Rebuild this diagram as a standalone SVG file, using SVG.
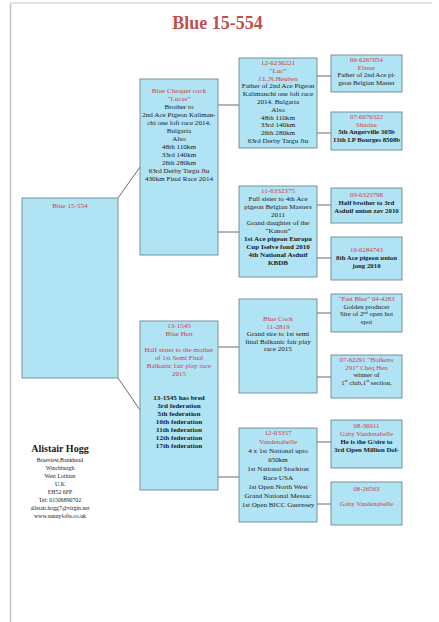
<svg xmlns="http://www.w3.org/2000/svg" width="439" height="622" viewBox="0 0 439 622">
<style>
.box{fill:#b0e3f4;stroke:#6a8797;stroke-width:0.9}
.t{font-family:"Liberation Serif","Times New Roman",serif;font-size:7.1px;text-anchor:middle;fill:#1a1a1a}
.s{font-size:6.8px}
.r{fill:#cf3e3e}
.b{font-weight:bold}
.sup{font-size:4.5px}
.conn line{stroke:#444;stroke-width:0.8}
.title{font-family:"Liberation Serif","Times New Roman",serif;font-size:18px;font-weight:bold;fill:#c0504d;text-anchor:middle}
.ft{font-family:"Liberation Serif","Times New Roman",serif;font-size:5.8px;text-anchor:middle;fill:#1a1a1a}
.fh{font-size:10px;font-weight:bold}
</style>
<rect width="439" height="622" fill="#fff"/>
<line x1="10.5" y1="3" x2="10.5" y2="622" stroke="#c4c4c4" stroke-width="1.5"/>
<line x1="10" y1="3" x2="432" y2="3" stroke="#e2e2e2" stroke-width="2"/>
<text class="title" x="217.5" y="29">Blue 15-554</text>

<g id="connectors" class="conn">
<line x1="118" y1="198" x2="140" y2="167"/>
<line x1="118" y1="378" x2="140" y2="410"/>
<line x1="218" y1="105" x2="239" y2="105"/>
<line x1="218" y1="232" x2="239" y2="232"/>
<line x1="218" y1="347" x2="239" y2="347"/>
<line x1="218" y1="477" x2="239" y2="477"/>
<line x1="317" y1="76" x2="331" y2="76"/>
<line x1="317" y1="133" x2="331" y2="133"/>
<line x1="317" y1="205" x2="331" y2="205"/>
<line x1="317" y1="258" x2="331" y2="258"/>
<line x1="317" y1="313" x2="331" y2="313"/>
<line x1="317" y1="377" x2="331" y2="377"/>
<line x1="317" y1="442" x2="331" y2="442"/>
<line x1="317" y1="504" x2="331" y2="504"/>
</g>

<g id="root">
<rect class="box" x="22" y="198" width="96" height="180"/>
<text class="t r" x="70" y="208">Blue 15-554</text>
</g>

<g id="sire">
<rect class="box" x="140" y="79" width="78" height="176"/>
<text class="t r" x="179" y="93">Blue Chequer cock</text>
<text class="t r" x="179" y="101">“Lucas”</text>
<text class="t" x="179" y="109">Brother to</text>
<text class="t" x="179" y="117">2nd Ace Pigeon Kaliman-</text>
<text class="t" x="179" y="125">chi one loft race 2014.</text>
<text class="t" x="179" y="133">Bulgaria</text>
<text class="t" x="179" y="141">Also</text>
<text class="t" x="179" y="149">48th 110km</text>
<text class="t" x="179" y="157">33rd 140km</text>
<text class="t" x="179" y="165">26th 280km</text>
<text class="t" x="179" y="173">63rd Derby Targu Jiu</text>
<text class="t" x="179" y="181">430km Final Race 2014</text>
</g>

<g id="dam">
<rect class="box" x="140" y="321" width="78" height="169"/>
<text class="t r" x="179" y="328">13-1545</text>
<text class="t r" x="179" y="336">Blue Hen</text>
<text class="t r" x="179" y="352">Half sister to the mother</text>
<text class="t r" x="179" y="360">of 1st Semi Final</text>
<text class="t r" x="179" y="368">Balkanic fair play race</text>
<text class="t r" x="179" y="376">2015</text>
<text class="t b" x="179" y="400">13-1545 has bred</text>
<text class="t b" x="179" y="408">3rd federation</text>
<text class="t b" x="179" y="416">5th federation</text>
<text class="t b" x="179" y="424">10th federation</text>
<text class="t b" x="179" y="432">11th federation</text>
<text class="t b" x="179" y="440">12th federation</text>
<text class="t b" x="179" y="448">17th federation</text>
</g>

<g id="ss">
<rect class="box" x="239" y="58" width="78" height="90"/>
<text class="t r" x="278" y="65">12-6236221</text>
<text class="t r" x="278" y="72.8">“Luc”</text>
<text class="t r" x="278" y="80.6">J.L.N.Heuben</text>
<text class="t" x="278" y="88.4">Father of 2nd Ace Pigeon</text>
<text class="t" x="278" y="96.2">Kalimanchi one loft race</text>
<text class="t" x="278" y="104">2014. Bulgaria</text>
<text class="t" x="278" y="111.8">Also</text>
<text class="t" x="278" y="119.6">48th 110km</text>
<text class="t" x="278" y="127.4">33rd 140km</text>
<text class="t" x="278" y="135.2">26th 280km</text>
<text class="t" x="278" y="143">63rd Derby Targu Jiu</text>
</g>

<g id="sd">
<rect class="box" x="239" y="186" width="78" height="91"/>
<text class="t r" x="278" y="193">11-6332375</text>
<text class="t" x="278" y="201">Full sister to 4th Ace</text>
<text class="t" x="278" y="209">pigeon Belgian Masters</text>
<text class="t" x="278" y="217">2011</text>
<text class="t" x="278" y="225">Grand daughter of the</text>
<text class="t" x="278" y="233">“Kanon”</text>
<text class="t b" x="278" y="241">1st Ace pigeon Europa</text>
<text class="t b" x="278" y="249">Cup Iselve fond 2010</text>
<text class="t b" x="278" y="257">4th National Asduif</text>
<text class="t b" x="278" y="265">KBDB</text>
</g>

<g id="ds">
<rect class="box" x="239" y="299" width="78" height="94"/>
<text class="t r" x="278" y="321">Blue Cock</text>
<text class="t r" x="278" y="328.5">11-2819</text>
<text class="t" x="278" y="336">Grand sire to 1st semi</text>
<text class="t" x="278" y="343.5">final Balkanic fair play</text>
<text class="t" x="278" y="351">race 2015</text>
</g>

<g id="dd">
<rect class="box" x="239" y="428" width="78" height="94"/>
<text class="t r" x="278" y="435">12-03357</text>
<text class="t r" x="278" y="444">Vandenabelle</text>
<text class="t" x="278" y="453">4 x 1st National upto</text>
<text class="t" x="278" y="462">650km</text>
<text class="t" x="278" y="471">1st National Stockton</text>
<text class="t" x="278" y="480">Race USA</text>
<text class="t" x="278" y="489">1st Open North West</text>
<text class="t" x="278" y="498">Grand National Messac</text>
<text class="t" x="278" y="507">1st Open BICC Guernsey</text>
</g>

<g id="sss">
<rect class="box" x="331" y="55" width="71" height="37"/>
<text class="t s r" x="366.5" y="62">06-6267054</text>
<text class="t s r" x="366.5" y="69.5">Elsner</text>
<text class="t s" x="366.5" y="77">Father of 2nd Ace pi-</text>
<text class="t s" x="366.5" y="84.5">geon Belgian Master</text>
</g>

<g id="ssd">
<rect class="box" x="331" y="112" width="71" height="38"/>
<text class="t s r" x="366.5" y="119">07-6076322</text>
<text class="t s r" x="366.5" y="126.5">Sharina</text>
<text class="t s b" x="366.5" y="134">5th Angerville 305b</text>
<text class="t s b" x="366.5" y="141.5">13th I.P Bourges 8508b</text>
</g>

<g id="sds">
<rect class="box" x="331" y="188" width="71" height="35"/>
<text class="t s r" x="366.5" y="197">09-6323798</text>
<text class="t s b" x="366.5" y="205">Half brother to 3rd</text>
<text class="t s b" x="366.5" y="213">Asduif union zav 2010</text>
</g>

<g id="sdd">
<rect class="box" x="331" y="237" width="71" height="43"/>
<text class="t s r" x="366.5" y="252">10-6284743</text>
<text class="t s b" x="366.5" y="260">8th Ace pigeon union</text>
<text class="t s b" x="366.5" y="268">jong 2010</text>
</g>

<g id="dss">
<rect class="box" x="331" y="294" width="71" height="38"/>
<text class="t s r" x="366.5" y="301">“Fast Blue” 04-4283</text>
<text class="t s" x="366.5" y="308.5">Golden producer</text>
<text class="t s" x="366.5" y="316">Sire of 2<tspan class="sup" dy="-2.5">nd</tspan><tspan dy="2.5"> open hot</tspan></text>
<text class="t s" x="366.5" y="323.5">spot</text>
</g>

<g id="dsd">
<rect class="box" x="331" y="355" width="71" height="43"/>
<text class="t s r" x="366.5" y="362">07-62291 “Hofkens</text>
<text class="t s r" x="366.5" y="369.5">291” Cheq Hen</text>
<text class="t s" x="366.5" y="377">winner of</text>
<text class="t s" x="366.5" y="384.5">1<tspan class="sup" dy="-2.5">st</tspan><tspan dy="2.5"> club,1</tspan><tspan class="sup" dy="-2.5">st</tspan><tspan dy="2.5"> section,</tspan></text>
</g>

<g id="dds">
<rect class="box" x="331" y="420" width="71" height="48"/>
<text class="t s r" x="366.5" y="428">08-36911</text>
<text class="t s r" x="366.5" y="436">Gaby Vandenabelle</text>
<text class="t s b" x="366.5" y="444">He is the G/sire to</text>
<text class="t s b" x="366.5" y="452">3rd Open Million Dol-</text>
</g>

<g id="ddd">
<rect class="box" x="331" y="482" width="71" height="43"/>
<text class="t s r" x="366.5" y="491">08-26563</text>
<text class="t s r" x="366.5" y="506">Gaby Vandenabelle</text>
</g>

<g id="footer">
<text class="ft fh" x="60" y="452">Alistair Hogg</text>
<text class="ft" x="60" y="462">Braeview,Bankhead</text>
<text class="ft" x="60" y="470">Winchburgh</text>
<text class="ft" x="60" y="478">West Lothian</text>
<text class="ft" x="60" y="486">U.K</text>
<text class="ft" x="60" y="494">EH52 6PP</text>
<text class="ft" x="60" y="502">Tel: 01506890702</text>
<text class="ft r" x="60" y="510">alistair.hogg7@virgin.net</text>
<text class="ft r" x="60" y="518">www.sunnylofts.co.uk</text>
</g>
</svg>
